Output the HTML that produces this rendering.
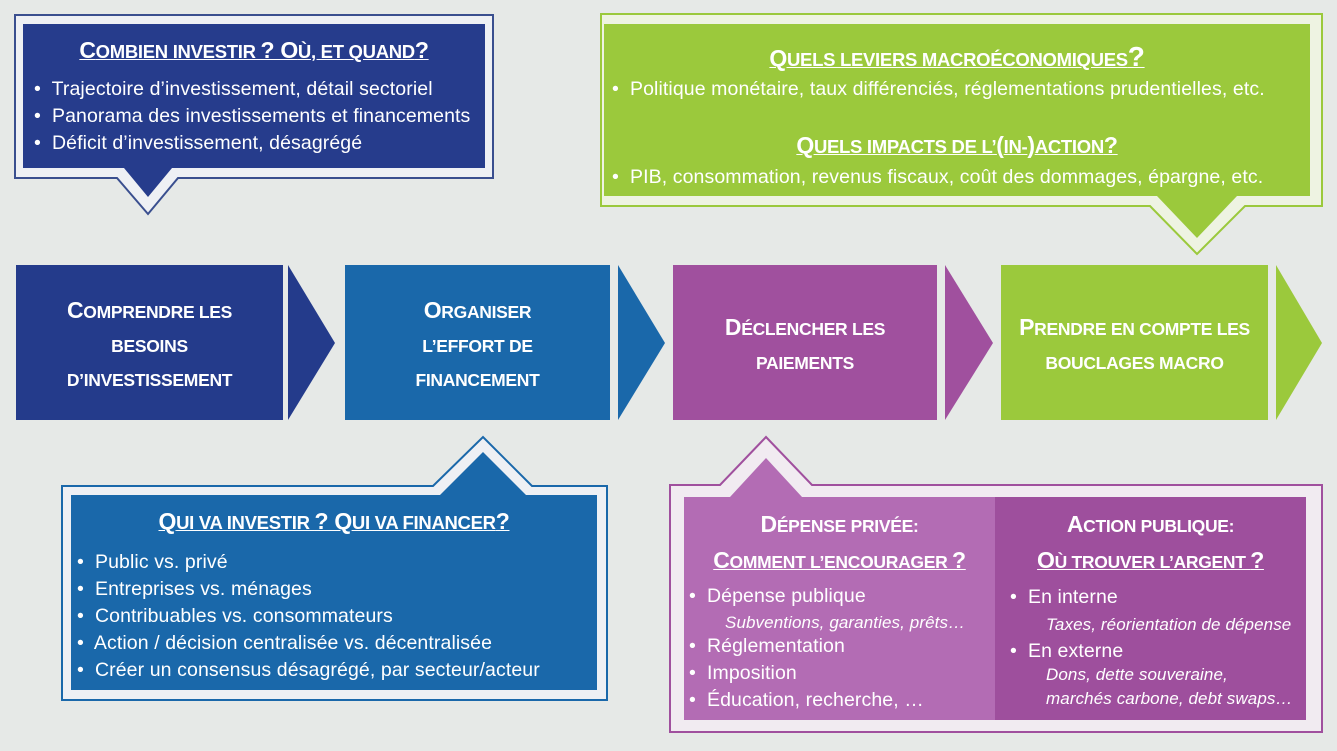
<!DOCTYPE html>
<html><head><meta charset="utf-8"><style>
body{margin:0;width:1337px;height:751px;background:#e6e9e7;position:relative;overflow:hidden;font-family:"Liberation Sans",sans-serif;color:#fff}
svg{position:absolute;left:0;top:0}
.t{position:absolute;white-space:nowrap;font-size:19.5px;letter-spacing:0.1px}
.h{position:absolute;white-space:nowrap;font-weight:bold;font-size:18.5px;text-decoration:underline;letter-spacing:-0.3px;text-align:center}
.c{position:absolute;font-weight:bold;font-size:17.5px;text-align:center;line-height:34px;letter-spacing:-0.3px}
.h b,.c b{font-size:23px}
.i{font-style:italic;font-size:17px}
</style></head><body>
<svg width="1337" height="751">
<polygon points="15,15 493,15 493,178 178,178 148,214 117,178 15,178" fill="#eef0f4" stroke="#3a4f8f" stroke-width="2"/>
<polygon points="23,24 485,24 485,168 172,168 148,197 124,168 23,168" fill="#263c8c"/>
<polygon points="601,14 1322,14 1322,206 1245,206 1197,254 1150,206 601,206" fill="#eef3e2" stroke="#9bc93c" stroke-width="2"/>
<polygon points="604,24 1310,24 1310,196 1237,196 1197,238 1157,196 604,196" fill="#9bc93c"/>
<rect x="16" y="265" width="267" height="155" fill="#243b8b"/>
<polygon points="288,265 335,343 288,420" fill="#243b8b"/>
<rect x="345" y="265" width="265" height="155" fill="#1a68aa"/>
<polygon points="618,265 665,343 618,420" fill="#1a68aa"/>
<rect x="673" y="265" width="264" height="155" fill="#a0509e"/>
<polygon points="945,265 993,343 945,420" fill="#a0509e"/>
<rect x="1001" y="265" width="267" height="155" fill="#9bc93c"/>
<polygon points="1276,265 1322,343 1276,420" fill="#9bc93c"/>
<polygon points="62,486 433,486 483,437 532,486 607,486 607,700 62,700" fill="#eef0f4" stroke="#1a68aa" stroke-width="2"/>
<polygon points="71,495 440,495 483,452 526,495 597,495 597,690 71,690" fill="#1a68aa"/>
<polygon points="670,485 720,485 766,437 812,485 1322,485 1322,732 670,732" fill="#f1ebf1" stroke="#a0509e" stroke-width="2"/>
<polygon points="684,497 730,497 766,458 802,497 995,497 995,720 684,720" fill="#b36cb4"/>
<rect x="995" y="497" width="311" height="223" fill="#9e4f9d"/>
</svg>

<div class="h" style="left:23px;width:462px;top:37px"><b>C</b>OMBIEN INVESTIR <b>? O</b>Ù, ET QUAND<b>?</b></div>
<div class="t" style="left:34px;top:78px">•&nbsp; Trajectoire d’investissement, détail sectoriel</div>
<div class="t" style="left:34px;top:105px">•&nbsp; Panorama des investissements et financements</div>
<div class="t" style="left:34px;top:132px">•&nbsp; Déficit d’investissement, désagrégé</div>

<div class="h" style="left:604px;width:706px;top:41px"><b>Q</b>UELS LEVIERS MACROÉCONOMIQUES<b style="font-size:28px">?</b></div>
<div class="t" style="left:612px;top:78px">•&nbsp; Politique monétaire, taux différenciés, réglementations prudentielles, etc.</div>
<div class="h" style="left:604px;width:706px;top:132px"><b>Q</b>UELS IMPACTS DE L’<b>(</b>IN-<b>)</b>ACTION<b>?</b></div>
<div class="t" style="left:612px;top:166px">•&nbsp; PIB, consommation, revenus fiscaux, coût des dommages, épargne, etc.</div>

<div class="c" style="left:16px;width:267px;top:293px"><b>C</b>OMPRENDRE LES<br>BESOINS<br>D’INVESTISSEMENT</div>
<div class="c" style="left:345px;width:265px;top:293px"><b>O</b>RGANISER<br>L’EFFORT DE<br>FINANCEMENT</div>
<div class="c" style="left:673px;width:264px;top:310px"><b>D</b>ÉCLENCHER LES<br>PAIEMENTS</div>
<div class="c" style="left:1001px;width:267px;top:310px"><b>P</b>RENDRE EN COMPTE LES<br>BOUCLAGES MACRO</div>

<div class="h" style="left:71px;width:526px;top:508px"><b>Q</b>UI VA INVESTIR <b>? Q</b>UI VA FINANCER<b>?</b></div>
<div class="t" style="left:77px;top:551px">•&nbsp; Public vs. privé</div>
<div class="t" style="left:77px;top:578px">•&nbsp; Entreprises vs. ménages</div>
<div class="t" style="left:77px;top:605px">•&nbsp; Contribuables vs. consommateurs</div>
<div class="t" style="left:77px;top:632px">•&nbsp; Action / décision centralisée vs. décentralisée</div>
<div class="t" style="left:77px;top:659px">•&nbsp; Créer un consensus désagrégé, par secteur/acteur</div>

<div class="c" style="left:684px;width:311px;top:507px"><b>D</b>ÉPENSE PRIVÉE:<br><u><b>C</b>OMMENT L’ENCOURAGER <b>?</b></u></div>
<div class="t" style="left:689px;top:585px">•&nbsp; Dépense publique</div>
<div class="t i" style="left:725px;top:613px">Subventions, garanties, prêts…</div>
<div class="t" style="left:689px;top:635px">•&nbsp; Réglementation</div>
<div class="t" style="left:689px;top:662px">•&nbsp; Imposition</div>
<div class="t" style="left:689px;top:689px">•&nbsp; Éducation, recherche, …</div>

<div class="c" style="left:995px;width:311px;top:507px"><b>A</b>CTION PUBLIQUE:<br><u><b>O</b>Ù TROUVER L’ARGENT <b>?</b></u></div>
<div class="t" style="left:1010px;top:586px">•&nbsp; En interne</div>
<div class="t i" style="left:1046px;top:615px">Taxes, réorientation de dépense</div>
<div class="t" style="left:1010px;top:640px">•&nbsp; En externe</div>
<div class="t i" style="left:1046px;top:665px">Dons, dette souveraine,</div>
<div class="t i" style="left:1046px;top:689px">marchés carbone, debt swaps…</div>
</body></html>
